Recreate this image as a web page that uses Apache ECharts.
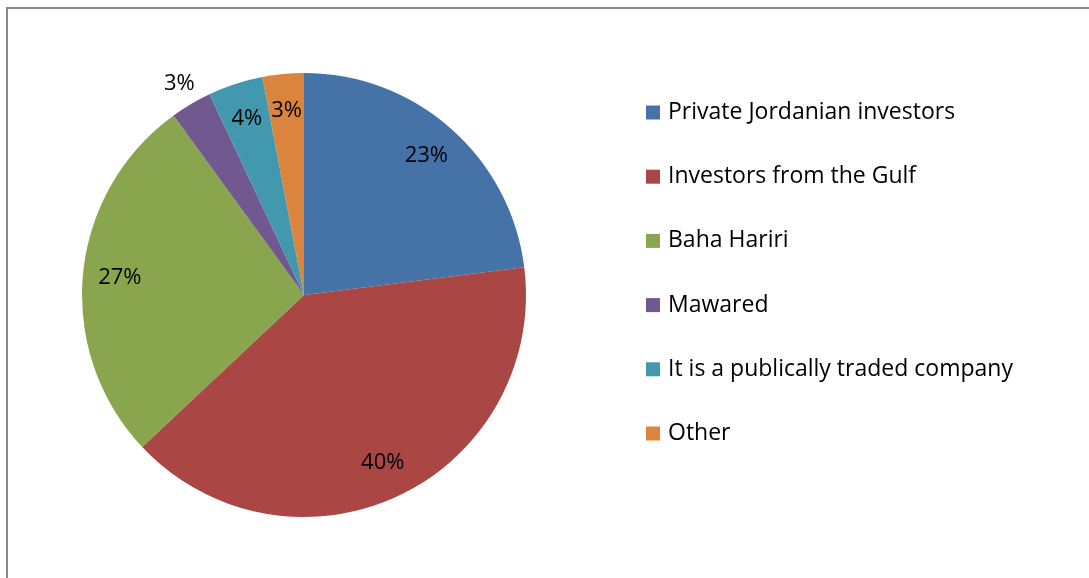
<!DOCTYPE html>
<html>
<head>
<meta charset="utf-8">
<script src="https://cdn.jsdelivr.net/npm/echarts@6/dist/echarts.min.js"></script>
<style>
  html, body { margin: 0; padding: 0; background: #fff; }
  #chart { width: 1089px; height: 578px; }
</style>
</head>
<body>
<div id="chart"></div>
<script>
// Ownership shares (percent)
const categories = [
  'Private Jordanian investors',
  'Investors from the Gulf',
  'Baha Hariri',
  'Mawared',
  'It is a publically traded company',
  'Other'
];
const shares = [23, 40, 27, 3, 4, 3];
const colors = ['#4572A7', '#AA4643', '#89A54E', '#71588F', '#4198AF', '#DB843D'];
// slices whose label sits outside the pie
const outsideLabels = ['Mawared'];

const FONT = '"Open Sans", sans-serif';
const CX = 304, CY = 295, R = 222;

const pieData = categories.map((name, i) => ({ name, value: shares[i] }));

const chart = echarts.init(document.getElementById('chart'), null, { renderer: 'canvas' });
chart.setOption({
  animation: false,
  color: colors,
  graphic: [{
    type: 'rect',
    shape: { x: 7, y: 8, width: 1200, height: 700 },
    style: { fill: 'none', stroke: '#898989', lineWidth: 2 },
    silent: true
  }],
  legend: {
    orient: 'vertical',
    left: 646,
    top: 101,
    padding: 0,
    icon: 'rect',
    itemWidth: 14,
    itemHeight: 14,
    itemGap: 41.2,
    selectedMode: false,
    data: categories,
    textStyle: { fontFamily: FONT, fontSize: 23, color: '#000', padding: [0, 0, 0, 3], lineHeight: 14 }
  },
  series: [
    {
      type: 'pie',
      center: [CX, CY],
      radius: [0, R],
      startAngle: 90,
      clockwise: true,
      label: { show: false },
      labelLine: { show: false },
      itemStyle: { borderWidth: 0 },
      emphasis: { disabled: true },
      data: pieData
    },
    {
      // inner label ring
      type: 'pie',
      center: [CX, CY],
      radius: [142, 222],
      startAngle: 90,
      clockwise: true,
      silent: true,
      z: 3,
      itemStyle: { color: 'transparent' },
      label: {
        position: 'inside',
        fontFamily: FONT, fontSize: 22, color: '#000',
        formatter: p => p.value + '%'
      },
      labelLine: { show: false },
      data: pieData.map(d => ({
        name: d.name, value: d.value,
        label: { show: outsideLabels.indexOf(d.name) < 0 }
      }))
    },
    {
      // outer label ring for thin slices
      type: 'pie',
      center: [CX, CY],
      radius: [228, 256],
      startAngle: 90,
      clockwise: true,
      silent: true,
      z: 3,
      itemStyle: { color: 'transparent' },
      label: {
        position: 'inside',
        fontFamily: FONT, fontSize: 22, color: '#000',
        formatter: p => p.value + '%'
      },
      labelLine: { show: false },
      data: pieData.map(d => ({
        name: d.name, value: d.value,
        label: { show: outsideLabels.indexOf(d.name) >= 0 }
      }))
    }
  ]
});
</script>
</body>
</html>
